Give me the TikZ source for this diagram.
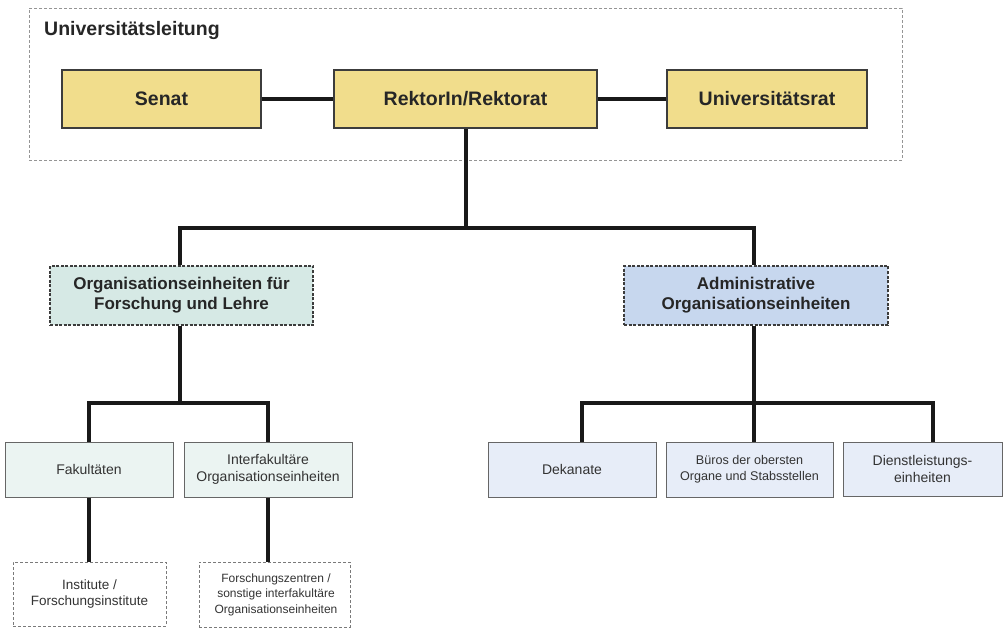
\documentclass[tikz,border=0pt]{standalone}
\usepackage{fontspec}
\setmainfont{Liberation Sans}
\definecolor{ybox}{HTML}{F1DD8C}
\definecolor{tealorg}{HTML}{D6E9E5}
\definecolor{blueorg}{HTML}{C7D7EE}
\definecolor{tealsub}{HTML}{EBF4F2}
\definecolor{bluesub}{HTML}{E7EDF8}
\definecolor{edge}{HTML}{3C3C3C}
\definecolor{dashgray}{HTML}{7A7A7A}
\begin{document}
\begin{tikzpicture}[x=1pt,y=-1pt,
  topbox/.style={draw=edge,line width=1.2pt,fill=ybox,minimum height=58pt,inner sep=0pt,
    font=\fontsize{19.5}{21}\selectfont\bfseries,text=black!85},
  orgbox/.style={draw=edge,line width=1.3pt,dashed,dash pattern=on 3pt off 1.5pt,minimum height=59pt,inner sep=0pt,
    align=center,font=\fontsize{17}{20}\selectfont\bfseries,text=black!85},
  subbox/.style={draw=black!60,line width=1pt,minimum height=55pt,inner sep=0pt,align=center,
    font=\fontsize{14}{16.5}\selectfont,text=black!80},
  leafbox/.style={draw=dashgray,line width=1pt,dashed,dash pattern=on 3pt off 2pt,inner sep=0pt,align=center,
    text=black!80},
  conn/.style={line width=4.2pt,draw=black!90}
]
\useasboundingbox (0,0) rectangle (1003,628);
% outer group
\node[draw=dashgray!80,line width=0.8pt,dashed,dash pattern=on 3pt off 2pt,minimum width=873pt,minimum height=152pt,inner sep=0pt] (ul) at (465.5,84) {};
\node[anchor=west,font=\fontsize{19.5}{21}\selectfont\bfseries,text=black!85,inner sep=0pt] (ultitle) at (44,31) {Universitätsleitung};
% top row
\node[topbox,minimum width=199pt] (senat) at (161.5,99) {Senat};
\node[topbox,minimum width=263pt] (rek) at (465.5,99) {RektorIn/Rektorat};
\node[topbox,minimum width=200pt] (urat) at (767,99) {Universitätsrat};
% org boxes
\node[orgbox,fill=tealorg,minimum width=263pt] (orgL) at (181.5,295.5) {Organisationseinheiten für\\Forschung und Lehre};
\node[orgbox,fill=blueorg,minimum width=264pt] (orgR) at (756,295.5) {Administrative\\Organisationseinheiten};
% left sub
\node[subbox,fill=tealsub,minimum width=168pt] (fak) at (89,469.5) {Fakultäten};
\node[subbox,fill=tealsub,minimum width=168pt] (ifak) at (268,469.5) {Interfakultäre\\Organisationseinheiten};
\node[leafbox,minimum width=153pt,minimum height=64pt,font=\fontsize{13.5}{16}\selectfont] (inst) at (89.5,594) {Institute /\\Forschungsinstitute};
\node[leafbox,minimum width=151pt,minimum height=65pt,font=\fontsize{12}{15.5}\selectfont] (fz) at (274.5,594.5) {\hspace*{3pt}Forschungszentren /\\\hspace*{3pt}sonstige interfakultäre\\\hspace*{3pt}Organisationseinheiten};
% right sub
\node[subbox,fill=bluesub,minimum width=168pt] (dek) at (572,469.5) {Dekanate};
\node[subbox,fill=bluesub,minimum width=167pt,font=\fontsize{12.6}{16}\selectfont] (buero) at (749.5,469.5) {Büros der obersten\\Organe und Stabsstellen};
\node[subbox,fill=bluesub,minimum width=159pt,minimum height=54pt] (dienst) at (922.5,469) {Dienstleistungs-\\einheiten};
% junction coordinates
\coordinate (j1) at (466,228);
\coordinate (jL) at (180,403);
\coordinate (jR) at (754,403);
\coordinate (dL) at (582,403);
\coordinate (dR) at (933,403);
% connectors
\draw[conn] (senat.east) -- (rek.west);
\draw[conn] (rek.east) -- (urat.west);
\draw[conn] (rek.south -| j1) -- (j1);
\draw[conn] (orgL.north -| jL) |- (j1) -| (orgR.north -| jR);
\draw[conn] (orgL.south -| jL) -- (jL);
\draw[conn] (fak.north) |- (jL) -| (ifak.north);
\draw[conn] (fak.south) -- (fak.south |- inst.north);
\draw[conn] (ifak.south) -- (ifak.south |- fz.north);
\draw[conn] (orgR.south -| jR) -- (jR);
\draw[conn] (dL |- dek.north) -- (dL) -- (dR) -- (dR |- dienst.north);
\draw[conn] (jR) -- (jR |- buero.north);
\end{tikzpicture}
\end{document}
